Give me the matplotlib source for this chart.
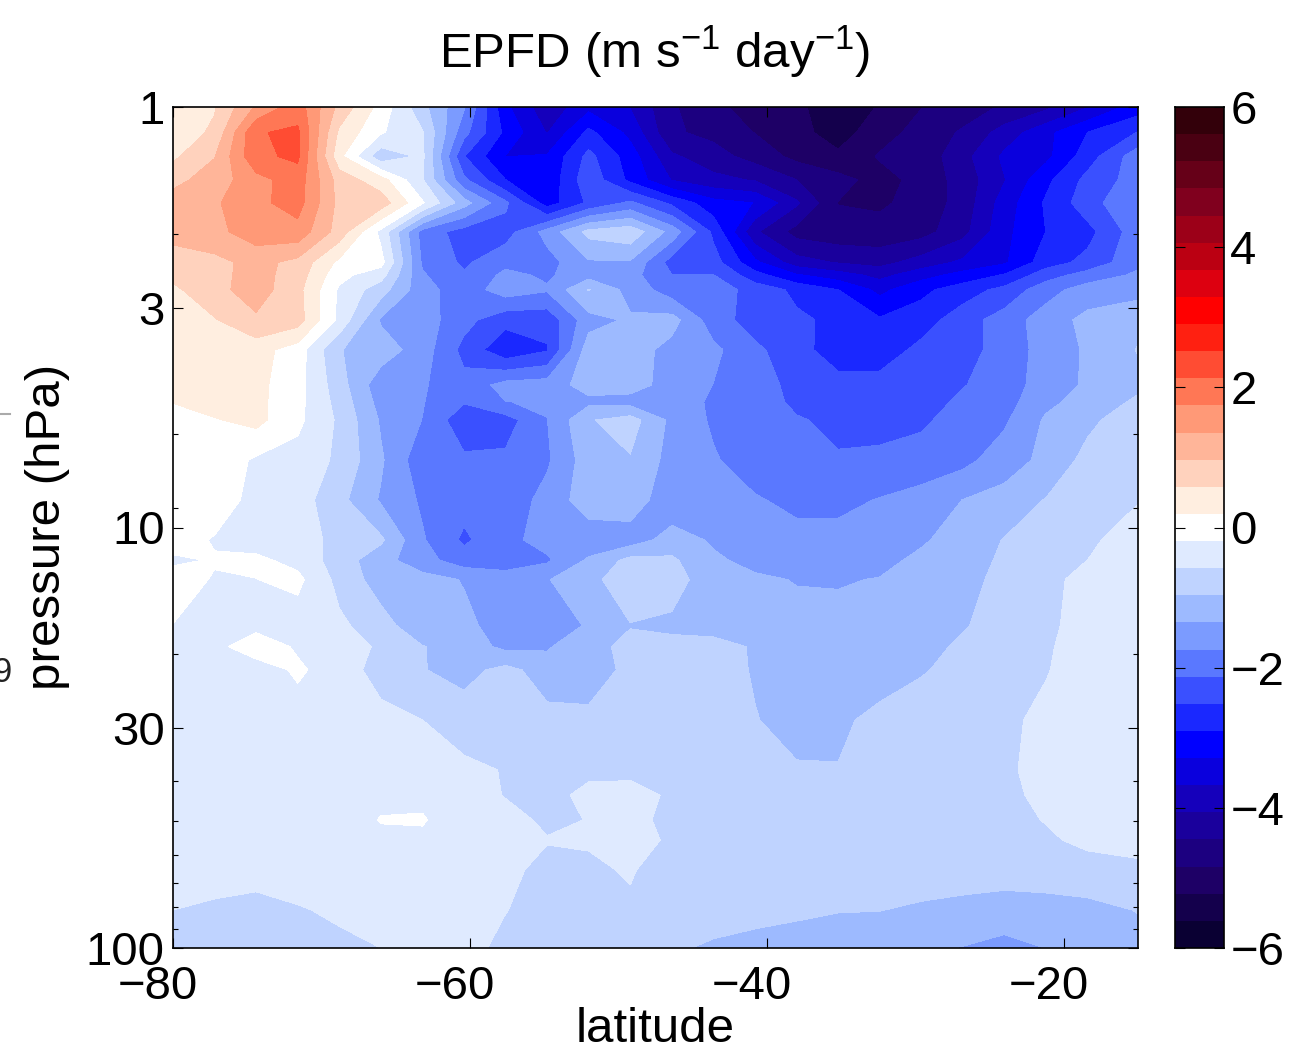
import matplotlib
matplotlib.use("Agg")
import matplotlib.pyplot as plt
from matplotlib.lines import Line2D
from matplotlib.ticker import NullFormatter
from matplotlib.transforms import ScaledTranslation

import numpy as np

plt.rcParams["font.family"] = ["Liberation Sans", "DejaVu Sans"]
plt.rcParams["mathtext.fontset"] = "custom"
plt.rcParams["mathtext.rm"] = "Liberation Sans"
plt.rcParams["mathtext.default"] = "regular"

lat = [-80, -77.2, -74.4, -71.6, -68.8, -66, -63.2, -60.4, -57.6, -54.8, -52, -49.2,
       -46.4, -43.6, -40.8, -38, -35.2, -32.4, -29.6, -26.8, -24, -21.2, -18.4, -15]

pressure = [1.0, 1.15, 1.31, 1.49, 1.69, 1.98, 2.34, 2.51, 2.72, 3.21, 3.78, 4.58, 5.03, 5.55,
            6.91, 8.6, 10.7, 11.96, 13.3, 17.1, 19.2, 21.8, 28.7, 37.7, 43.3, 49.6, 55.4, 65.3, 81.2, 100.0]

# one row per pressure level
epfd = [
    [0.3, 0.55, 1.4, 1.95, 0.85, 0.05, -0.85, -1.7, -3.2, -3.95, -3.4, -3.7, -4.4, -4.75, -5.0, -5.15, -5.45, -5.2, -4.85, -4.65, -4.4, -4.15, -3.7, -3.1],
    [0.35, 0.65, 2.1, 2.2, 0.5, -0.15, -0.55, -2.0, -3.0, -3.7, -2.8, -3.4, -4.4, -4.55, -4.85, -5.1, -5.4, -5.0, -4.7, -4.4, -3.9, -3.4, -2.9, -2.5],
    [0.5, 0.95, 2.05, 2.2, 0.3, -0.85, -0.5, -2.5, -3.3, -3.25, -2.4, -3.1, -4.0, -4.3, -4.6, -4.95, -5.15, -4.8, -4.7, -4.2, -3.6, -3.4, -2.7, -1.9],
    [0.85, 1.15, 1.6, 1.95, 0.8, 0.35, -0.55, -2.05, -2.9, -3.2, -2.25, -3.0, -3.7, -3.95, -4.1, -4.45, -4.7, -5.0, -4.7, -4.3, -3.7, -3.0, -2.4, -1.95],
    [1.15, 1.3, 1.65, 1.9, 0.85, 0.8, -0.15, -1.2, -2.05, -3.1, -2.45, -2.05, -2.6, -3.15, -3.3, -4.0, -4.85, -4.9, -4.7, -4.3, -3.5, -2.85, -2.3, -1.75],
    [1.05, 1.25, 1.55, 1.6, 0.8, -0.3, -1.9, -2.3, -2.3, -1.6, -0.85, -0.7, -1.5, -2.6, -4.0, -4.6, -4.7, -4.7, -4.6, -4.2, -3.4, -2.9, -2.65, -1.9],
    [0.85, 0.85, 1.1, 0.85, 0.1, -0.05, -1.8, -2.2, -1.85, -1.9, -1.4, -1.4, -2.3, -2.35, -3.2, -3.9, -4.1, -4.2, -3.9, -3.6, -3.35, -2.7, -2.4, -1.85],
    [0.68, 0.85, 1.12, 0.78, -0.08, -0.42, -1.7, -2.08, -1.65, -1.8, -1.5, -1.6, -2.12, -2.12, -2.75, -3.25, -3.5, -3.8, -3.45, -3.15, -2.87, -2.3, -1.97, -1.67],
    [0.5, 0.85, 1.15, 0.7, -0.25, -0.8, -1.6, -1.95, -1.55, -1.7, -0.95, -1.5, -1.95, -1.9, -2.3, -2.6, -2.9, -3.4, -3.0, -2.7, -2.4, -1.9, -1.55, -1.5],
    [0.42, 0.55, 0.9, 0.75, -0.3, -1.4, -1.55, -2.0, -2.4, -2.4, -1.5, -1.3, -1.2, -1.95, -2.3, -2.45, -2.6, -2.85, -2.7, -2.3, -1.95, -1.55, -1.25, -1.05],
    [0.38, 0.38, 0.35, 0.0, -0.95, -1.15, -1.55, -2.25, -2.8, -2.55, -1.15, -1.15, -1.5, -1.65, -2.05, -2.35, -2.75, -2.75, -2.4, -2.3, -1.95, -1.6, -1.3, -0.95],
    [0.4, 0.4, 0.3, -0.05, -0.8, -1.6, -1.7, -2.0, -1.6, -1.55, -1.2, -1.2, -1.5, -1.75, -1.95, -2.25, -2.35, -2.35, -2.3, -2.15, -1.95, -1.55, -1.3, -1.05],
    [0.2, 0.33, 0.3, -0.08, -0.72, -1.5, -1.72, -2.1, -1.75, -1.7, -1.45, -1.5, -1.55, -1.8, -1.95, -2.2, -2.3, -2.3, -2.3, -2.05, -1.9, -1.45, -1.2, -0.9],
    [0.1, 0.17, 0.3, -0.1, -0.65, -1.4, -1.75, -2.4, -2.3, -1.75, -1.0, -0.8, -1.45, -1.8, -1.95, -2.1, -2.2, -2.25, -2.2, -1.95, -1.8, -1.3, -1.05, -0.75],
    [0.0, 0.05, -0.25, -0.35, -0.65, -1.3, -2.0, -2.05, -2.05, -1.8, -1.15, -1.0, -1.5, -1.7, -1.95, -2.05, -2.1, -2.05, -1.95, -1.85, -1.55, -1.25, -0.85, -0.65],
    [0.0, -0.02, -0.3, -0.4, -0.85, -1.4, -1.8, -2.0, -2.0, -1.6, -1.15, -1.15, -1.6, -1.65, -1.7, -1.85, -1.85, -1.72, -1.6, -1.35, -1.2, -0.95, -0.8, -0.6],
    [-0.05, -0.22, -0.35, -0.4, -0.7, -0.9, -1.7, -2.2, -1.85, -1.6, -1.6, -1.55, -1.2, -1.4, -1.6, -1.6, -1.6, -1.55, -1.4, -1.2, -0.95, -0.75, -0.65, -0.4],
    [-0.25, -0.17, -0.12, -0.3, -0.78, -1.2, -1.6, -1.95, -1.95, -1.8, -1.3, -0.85, -0.9, -1.3, -1.45, -1.55, -1.55, -1.45, -1.28, -1.15, -0.9, -0.7, -0.58, -0.4],
    [-0.05, -0.22, -0.2, -0.1, -0.7, -1.15, -1.2, -1.38, -1.55, -1.38, -1.05, -0.8, -0.8, -1.2, -1.3, -1.37, -1.38, -1.34, -1.25, -1.1, -0.85, -0.65, -0.5, -0.4],
    [-0.2, -0.3, -0.25, -0.4, -0.5, -0.8, -1.25, -1.25, -1.55, -1.65, -1.3, -0.98, -1.05, -1.1, -1.25, -1.25, -1.25, -1.25, -1.2, -1.0, -0.8, -0.65, -0.45, -0.35],
    [-0.3, -0.25, -0.08, -0.22, -0.45, -0.62, -0.95, -1.15, -1.45, -1.4, -1.05, -0.9, -0.85, -0.85, -1.0, -1.25, -1.25, -1.2, -1.1, -0.9, -0.75, -0.62, -0.43, -0.35],
    [-0.3, -0.3, -0.3, -0.16, -0.3, -0.8, -0.95, -1.1, -0.85, -1.15, -1.2, -0.85, -0.8, -0.8, -1.0, -1.2, -1.25, -1.15, -1.0, -0.85, -0.7, -0.6, -0.42, -0.35],
    [-0.3, -0.3, -0.3, -0.3, -0.35, -0.4, -0.58, -0.75, -0.8, -0.85, -0.85, -0.85, -0.8, -0.8, -0.95, -1.1, -1.05, -0.85, -0.75, -0.7, -0.65, -0.5, -0.4, -0.35],
    [-0.3, -0.3, -0.3, -0.3, -0.3, -0.3, -0.35, -0.5, -0.6, -0.68, -0.65, -0.65, -0.75, -0.75, -0.8, -0.93, -0.95, -0.8, -0.75, -0.7, -0.62, -0.5, -0.4, -0.35],
    [-0.3, -0.3, -0.3, -0.3, -0.3, -0.3, -0.3, -0.4, -0.6, -0.68, -0.5, -0.48, -0.62, -0.75, -0.78, -0.8, -0.8, -0.78, -0.75, -0.7, -0.64, -0.52, -0.42, -0.37],
    [-0.3, -0.3, -0.3, -0.3, -0.45, -0.17, -0.15, -0.5, -0.45, -0.65, -0.57, -0.45, -0.7, -0.75, -0.75, -0.78, -0.78, -0.75, -0.72, -0.7, -0.65, -0.57, -0.45, -0.4],
    [-0.35, -0.33, -0.32, -0.3, -0.3, -0.3, -0.3, -0.33, -0.45, -0.56, -0.56, -0.48, -0.62, -0.75, -0.78, -0.79, -0.79, -0.78, -0.76, -0.74, -0.7, -0.62, -0.52, -0.48],
    [-0.45, -0.42, -0.4, -0.35, -0.33, -0.3, -0.3, -0.35, -0.48, -0.7, -0.62, -0.56, -0.7, -0.75, -0.8, -0.8, -0.8, -0.8, -0.8, -0.8, -0.8, -0.75, -0.7, -0.65],
    [-0.58, -0.65, -0.75, -0.62, -0.5, -0.42, -0.4, -0.43, -0.57, -0.72, -0.72, -0.62, -0.8, -0.82, -0.85, -0.9, -0.95, -0.96, -1.02, -1.08, -1.15, -1.15, -1.1, -0.95],
    [-0.72, -0.75, -0.78, -0.75, -0.7, -0.58, -0.4, -0.45, -0.68, -0.8, -0.85, -0.88, -0.92, -1.02, -1.1, -1.15, -1.2, -1.25, -1.3, -1.37, -1.48, -1.35, -1.25, -1.15],
]

band_colors = ["#0A0033", "#14004C", "#1E0066", "#1C0080", "#1A009C", "#1500BB", "#0A00DD", "#0000FF",
               "#1A28FF", "#3A50FF", "#5A78FF", "#7B9BFF", "#9DBAFF", "#BFD3FF", "#DFEAFF", "#FFFFFF",
               "#FFEEE0", "#FFD2BD", "#FFB599", "#FF9977", "#FF7755", "#FF4C33", "#FF2011", "#FF0000",
               "#DD0010", "#BB0012", "#9C0018", "#80001E", "#660018", "#4A0012", "#33000A"]

lat_ticks = [-80, -60, -40, -20]
lat_labels = ["\u221280", "\u221260", "\u221240", "\u221220"]
p_ticks = [1, 3, 10, 30, 100]
p_labels = ["1", "3", "10", "30", "100"]
p_minor = [2, 6, 9, 20, 40, 50, 60, 70, 80, 90]
cbar_ticks = [-6, -4, -2, 0, 2, 4, 6]
cbar_labels = ["\u22126", "\u22124", "\u22122", "0", "2", "4", "6"]

W, H = 1302, 1057
FS = 34
LABEL_FS = 35.5

levels = np.linspace(-6, 6, len(band_colors) + 1)

fig = plt.figure(figsize=(W / 100, H / 100), dpi=100)

ax = fig.add_axes([173 / W, 1 - 948 / H, 965 / W, 841 / H])
ax.contourf(lat, pressure, np.array(epfd), levels=levels, colors=band_colors)
ax.set_yscale("log")
ax.set_xlim(-80, -15)
ax.set_ylim(100, 1)
ax.set_xticks(lat_ticks)
ax.set_xticklabels(lat_labels, fontsize=FS)
ax.set_yticks(p_ticks)
ax.set_yticklabels(p_labels, fontsize=FS)
ax.set_yticks(p_minor, minor=True)
ax.yaxis.set_minor_formatter(NullFormatter())
ax.tick_params(axis="both", which="major", direction="in", length=7, width=0.8, top=True, right=True)
ax.tick_params(axis="x", which="major", pad=12)
ax.tick_params(axis="y", which="major", pad=6)
ax.tick_params(axis="y", which="minor", direction="in", length=3.5, width=0.8, left=True, right=True)
for s in ax.spines.values():
    s.set_linewidth(1.2)

# x labels sit left of their ticks in the original
shift = ScaledTranslation(-15 / 100, 0, fig.dpi_scale_trans)
for t in ax.get_xticklabels():
    t.set_transform(t.get_transform() + shift)

fig.text(655 / W, 1 - 52 / H, r"EPFD (m s$^{-1}$ day$^{-1}$)", fontsize=LABEL_FS, ha="center", va="center")
fig.text(655 / W, 1 - 1030 / H, "latitude", fontsize=LABEL_FS, ha="center", va="center")
fig.text(48 / W, 1 - 527 / H, "pressure (hPa)", fontsize=LABEL_FS, rotation=90, ha="center", va="center")

# colorbar
cax = fig.add_axes([1175 / W, 1 - 948 / H, 49 / W, 841 / H])
for i, c in enumerate(band_colors):
    cax.axhspan(levels[i], levels[i + 1], color=c, lw=0)
cax.set_xlim(0, 1)
cax.set_ylim(-6, 6)
cax.set_xticks([])
cax.set_yticks(cbar_ticks)
cax.set_yticklabels(cbar_labels, fontsize=FS)
cax.yaxis.tick_right()
cax.tick_params(axis="y", direction="in", length=7, width=0.8, left=True, right=True, pad=4.5)
for s in cax.spines.values():
    s.set_linewidth(1.2)

# bits of the neighbouring panel left in the crop
fig.add_artist(Line2D([0, 10 / W], [1 - 414 / H, 1 - 414 / H], color="#aaaaaa", lw=1.5))
fig.text(12 / W, 1 - 672 / H, "9", fontsize=25, ha="right", va="center", color="#222222")

plt.savefig("out.png", dpi=100)
plt.close()
